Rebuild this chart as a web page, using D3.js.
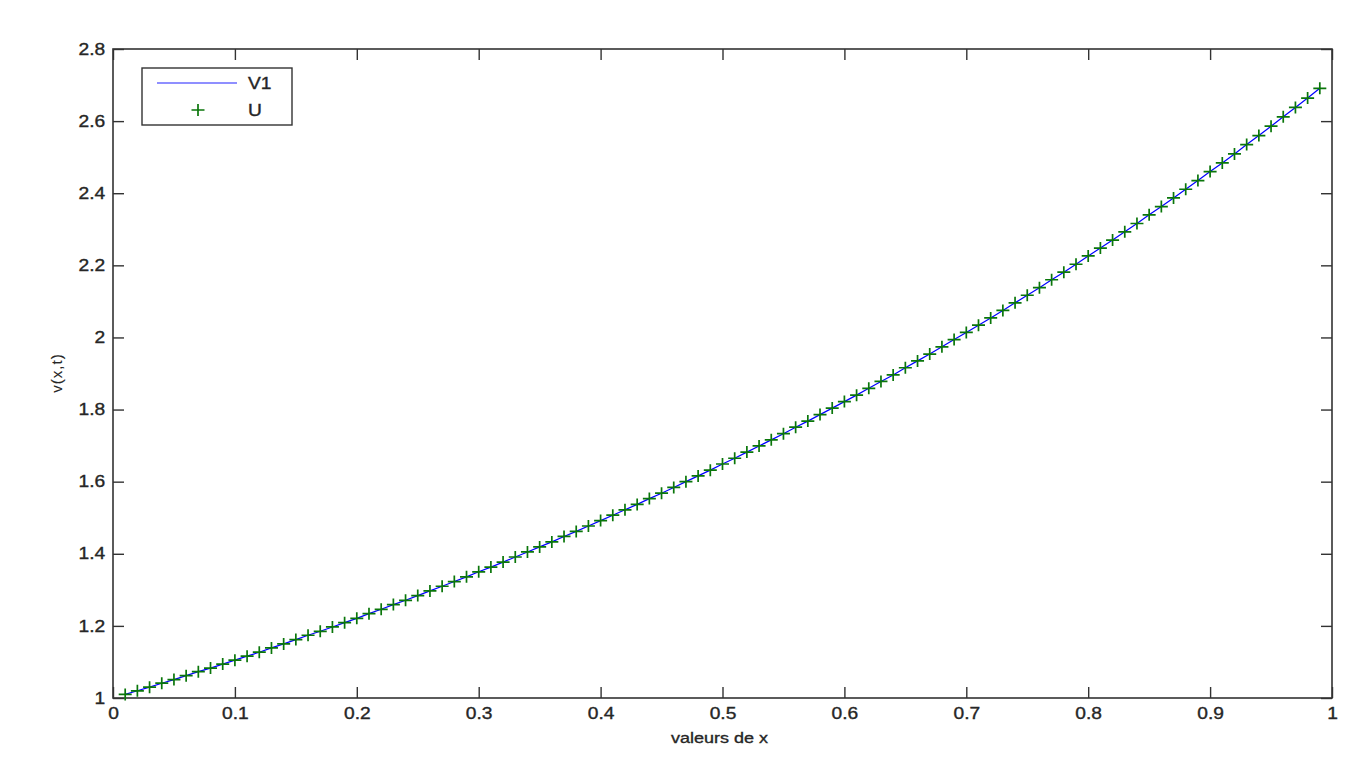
<!DOCTYPE html>
<html>
<head>
<meta charset="utf-8">
<script src="https://cdn.jsdelivr.net/npm/d3@7"></script>
<style>
body { margin: 0; background: white; }
text { font-family: "Liberation Sans", Arial, sans-serif; fill: #262626; stroke: #262626; stroke-width: 0.35px; }
</style>
</head>
<body>
<div id="chart"></div>
<script>
// sample positions
var xValues = [0.01,0.02,0.03,0.04,0.05,0.06,0.07,0.08,0.09,0.10,
	0.11,0.12,0.13,0.14,0.15,0.16,0.17,0.18,0.19,0.20,
	0.21,0.22,0.23,0.24,0.25,0.26,0.27,0.28,0.29,0.30,
	0.31,0.32,0.33,0.34,0.35,0.36,0.37,0.38,0.39,0.40,
	0.41,0.42,0.43,0.44,0.45,0.46,0.47,0.48,0.49,0.50,
	0.51,0.52,0.53,0.54,0.55,0.56,0.57,0.58,0.59,0.60,
	0.61,0.62,0.63,0.64,0.65,0.66,0.67,0.68,0.69,0.70,
	0.71,0.72,0.73,0.74,0.75,0.76,0.77,0.78,0.79,0.80,
	0.81,0.82,0.83,0.84,0.85,0.86,0.87,0.88,0.89,0.90,
	0.91,0.92,0.93,0.94,0.95,0.96,0.97,0.98,0.99]

// V1 curve
var v1Values = [1.010,1.020,1.030,1.041,1.051,1.062,1.073,1.083,1.094,1.105,
	1.116,1.127,1.139,1.150,1.162,1.174,1.185,1.197,1.209,1.221,
	1.234,1.246,1.259,1.271,1.284,1.297,1.310,1.323,1.336,1.350,
	1.363,1.377,1.391,1.405,1.419,1.433,1.448,1.462,1.477,1.492,
	1.507,1.522,1.537,1.553,1.568,1.584,1.600,1.616,1.632,1.649,
	1.665,1.682,1.699,1.716,1.733,1.751,1.768,1.786,1.804,1.822,
	1.840,1.859,1.878,1.896,1.916,1.935,1.954,1.974,1.994,2.014,
	2.034,2.054,2.075,2.096,2.117,2.138,2.160,2.181,2.203,2.226,
	2.248,2.270,2.293,2.316,2.340,2.363,2.387,2.411,2.435,2.460,
	2.484,2.509,2.535,2.560,2.586,2.612,2.638,2.664,2.691]

// U markers sit on the same curve
var uValues = [1.010,1.020,1.030,1.041,1.051,1.062,1.073,1.083,1.094,1.105,
	1.116,1.127,1.139,1.150,1.162,1.174,1.185,1.197,1.209,1.221,
	1.234,1.246,1.259,1.271,1.284,1.297,1.310,1.323,1.336,1.350,
	1.363,1.377,1.391,1.405,1.419,1.433,1.448,1.462,1.477,1.492,
	1.507,1.522,1.537,1.553,1.568,1.584,1.600,1.616,1.632,1.649,
	1.665,1.682,1.699,1.716,1.733,1.751,1.768,1.786,1.804,1.822,
	1.840,1.859,1.878,1.896,1.916,1.935,1.954,1.974,1.994,2.014,
	2.034,2.054,2.075,2.096,2.117,2.138,2.160,2.181,2.203,2.226,
	2.248,2.270,2.293,2.316,2.340,2.363,2.387,2.411,2.435,2.460,
	2.484,2.509,2.535,2.560,2.586,2.612,2.638,2.664,2.691]

var xTicks = [0,0.1,0.2,0.3,0.4,0.5,0.6,0.7,0.8,0.9,1]
var yTicks = [1,1.2,1.4,1.6,1.8,2,2.2,2.4,2.6,2.8]
var seriesNames = ["V1", "U"]

var W = 1366, H = 768
var pLeft = 113, pRight = 1332, pTop = 49, pBottom = 698
var tickLen = 11
var stretch = "scale(1.2,1)" //the picture is a bit wide, text too

var svg = d3.select("#chart").append("svg")
	.attr("width", W)
	.attr("height", H)

var x = d3.scaleLinear().domain([0, 1]).range([pLeft, pRight])
var y = d3.scaleLinear().domain([1, 2.8]).range([pBottom, pTop])

// axes: labels on bottom/left, inward ticks on all four sides
var axisColor = "#333"
function styleAxis(g){
	g.select(".domain").remove()
	g.selectAll(".tick line").attr("stroke", axisColor).attr("stroke-width", 1.4)
	g.selectAll(".tick text")
		.style("font-size", "16px")
		.attr("fill", "#262626")
		.attr("transform", stretch)
}

svg.append("g")
	.attr("transform", "translate(0," + pBottom + ")")
	.call(d3.axisBottom(x).tickValues(xTicks).tickSizeInner(-tickLen).tickSizeOuter(0).tickPadding(10).tickFormat(d3.format("")))
	.call(styleAxis)

svg.append("g")
	.attr("transform", "translate(0," + pTop + ")")
	.call(d3.axisTop(x).tickValues(xTicks).tickSizeInner(-tickLen).tickSizeOuter(0).tickFormat(""))
	.call(styleAxis)

svg.append("g")
	.attr("transform", "translate(" + pLeft + ",0)")
	.call(d3.axisLeft(y).tickValues(yTicks).tickSizeInner(-tickLen).tickSizeOuter(0).tickPadding(6.5).tickFormat(d3.format("")))
	.call(styleAxis)

svg.append("g")
	.attr("transform", "translate(" + pRight + ",0)")
	.call(d3.axisRight(y).tickValues(yTicks).tickSizeInner(-tickLen).tickSizeOuter(0).tickFormat(""))
	.call(styleAxis)

// frame
svg.append("rect")
	.attr("x", pLeft)
	.attr("y", pTop)
	.attr("width", pRight - pLeft)
	.attr("height", pBottom - pTop)
	.style("fill", "none")
	.style("stroke", axisColor)
	.style("stroke-width", 1.6)

var pts = xValues.map(function(d, i){ return {x: d, v: v1Values[i], u: uValues[i]} })

// V1 line
var line = d3.line()
	.x(function(d){ return x(d.x) })
	.y(function(d){ return y(d.v) })

svg.append("path")
	.datum(pts)
	.attr("d", line)
	.style("fill", "none")
	.style("stroke", "#0000ff")
	.style("stroke-width", 1.2)

// U plus markers
var plus = d3.symbol().type({draw: function(ctx, size){
		var rx = 6.5, ry = 6
		ctx.moveTo(-rx, 0); ctx.lineTo(rx, 0)
		ctx.moveTo(0, -ry); ctx.lineTo(0, ry)
	}})

svg.append("g").selectAll("path")
	.data(pts)
	.enter()
	.append("path")
	.attr("transform", function(d){ return "translate(" + x(d.x) + "," + y(d.u) + ")" })
	.attr("d", plus)
	.style("fill", "none")
	.style("stroke", "#0a760a")
	.style("stroke-width", 1.7)

// legend
var leg = svg.append("g")
leg.append("rect")
	.attr("x", 142).attr("y", 68)
	.attr("width", 150).attr("height", 57)
	.style("fill", "white")
	.style("stroke", axisColor)
	.style("stroke-width", 1.4)

leg.append("line")
	.attr("x1", 157).attr("x2", 237)
	.attr("y1", 83).attr("y2", 83)
	.style("stroke", "#2020ff")
	.style("stroke-width", 1.2)

leg.append("path")
	.attr("transform", "translate(198,110)")
	.attr("d", plus)
	.style("fill", "none")
	.style("stroke", "#0a760a")
	.style("stroke-width", 1.7)

leg.selectAll("text.lab")
	.data(seriesNames)
	.enter()
	.append("text")
	.attr("class", "lab")
	.attr("transform", function(d, i){ return "translate(248," + (89 + i * 27) + ") " + stretch })
	.style("font-size", "16px")
	.text(function(d){ return d })

// axis titles
svg.append("text")
	.attr("transform", "translate(" + ((pLeft + pRight) / 2 - 3) + ",743) " + stretch)
	.attr("text-anchor", "middle")
	.style("font-size", "15px")
	.text("valeurs de x")

svg.append("text")
	.attr("transform", "translate(62,373) rotate(-90)")
	.attr("text-anchor", "middle")
	.style("font-size", "15px")
	.style("letter-spacing", "1px")
	.style("stroke-width", "0.1px")
	.text("v(x,t)")
</script>
</body>
</html>
